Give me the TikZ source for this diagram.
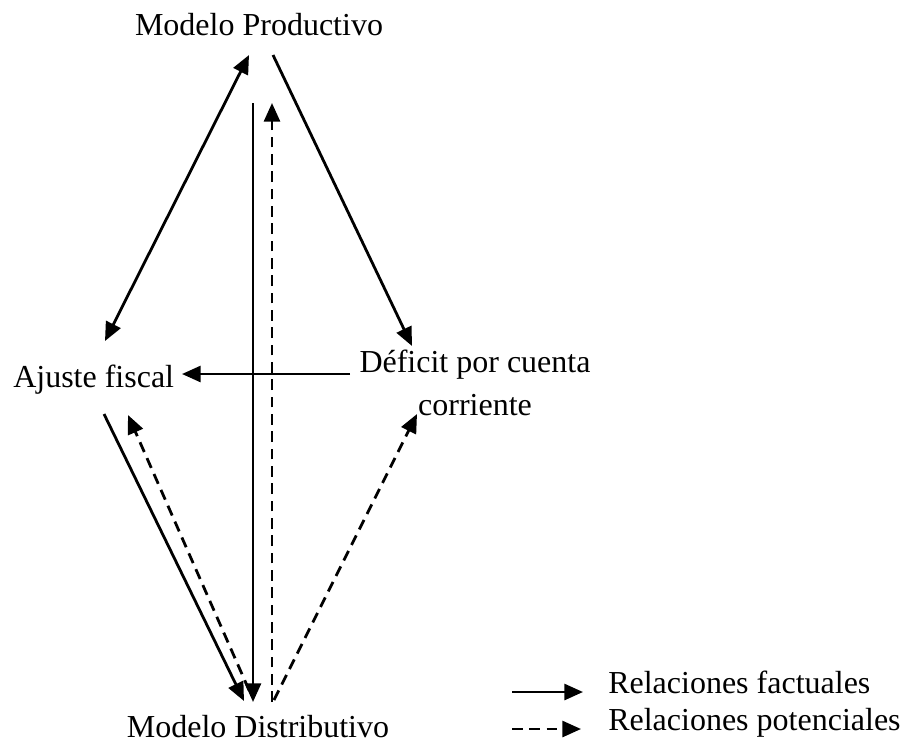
\documentclass[tikz,border=0pt]{standalone}
\usepackage{fontspec}
\setmainfont{Liberation Serif}
\usetikzlibrary{arrows.meta}
\begin{document}
\begin{tikzpicture}[x=0.75pt,y=-0.75pt,
  lbl/.style={inner sep=0pt,font=\fontsize{24}{32}\selectfont},
  rel/.style={line width=2.1pt,-{Triangle[length=14pt,width=12pt]}},
  relboth/.style={line width=2.1pt,{Triangle[length=14pt,width=12pt]}-{Triangle[length=14pt,width=12pt]}},
  pot/.style={rel,dash pattern=on 8pt off 5pt}]
\useasboundingbox (0,0) rectangle (903,744);
% nodes
\node[lbl,anchor=base] (prod) at (259,35) {Modelo Productivo};
\node[lbl,anchor=base west] (ajuste) at (13,387) {Ajuste fiscal};
\node[lbl,anchor=base] (deficit) at (475,372) {Déficit por cuenta};
\node[lbl,anchor=base] (corr) at (475,415) {corriente};
\node[lbl,anchor=base] (dist) at (258,737) {Modelo Distributivo};
\node[lbl,anchor=base west] (fact) at (608,693) {Relaciones factuales};
\node[lbl,anchor=base west] (potl) at (608,730) {Relaciones potenciales};
% connector end points
\coordinate (pA) at (249,55);
\coordinate (aP) at (105,341);
\coordinate (pD) at (273,55);
\coordinate (dP) at (412,346);
\coordinate (pV) at (253,103);
\coordinate (vD) at (253,702);
\coordinate (dV) at (272,702);
\coordinate (vP) at (272,103);
\coordinate (dH) at (350,374);
\coordinate (hA) at (182,374);
\coordinate (aS) at (104,414);
\coordinate (sD) at (244,701);
\coordinate (dA) at (249,690);
\coordinate (tA) at (128,415);
\coordinate (dF) at (274,700);
\coordinate (tF) at (417,414);
\coordinate (l1a) at (512,692);
\coordinate (l1b) at (583,692);
\coordinate (l2a) at (512,729);
\coordinate (l2b) at (581,729);
% connectors
\draw[relboth] (aP) -- (pA);
\draw[rel] (pD) -- (dP);
\draw[rel] (pV) -- (vD);
\draw[pot] (dV) -- (vP);
\draw[rel] (dH) -- (hA);
\draw[rel] (aS) -- (sD);
\draw[pot] (dA) -- (tA);
\draw[pot] (dF) -- (tF);
% legend
\draw[rel] (l1a) -- (l1b);
\draw[pot] (l2a) -- (l2b);
\end{tikzpicture}
\end{document}
